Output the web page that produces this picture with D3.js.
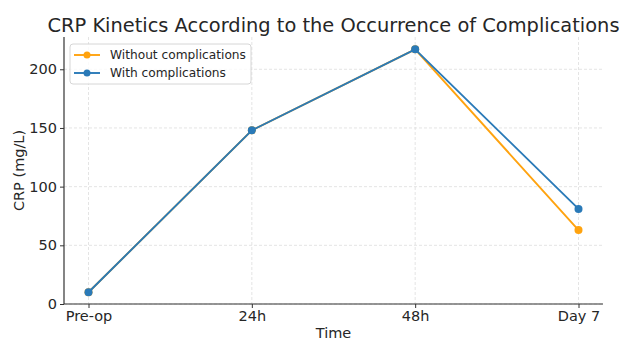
<!DOCTYPE html>
<html>
<head>
<meta charset="utf-8">
<script src="https://cdn.jsdelivr.net/npm/d3@7"></script>
<style>
  html, body { margin: 0; padding: 0; background: #fff; }
  svg { display: block; font-family: "DejaVu Sans", sans-serif; }
</style>
</head>
<body>
<svg id="chart" width="619" height="341"></svg>
<script>
// CRP measurements per time point
const timepoints = ["Pre-op", "24h", "48h", "Day 7"];
const withoutComplications = [10, 148, 217, 63];
const withComplications = [10, 148, 217, 81];
const yTicks = [0, 50, 100, 150, 200];

const series = [
  { name: "Without complications", values: withoutComplications, color: "#ffa30f" },
  { name: "With complications", values: withComplications, color: "#2a7ab8" }
];

const svg = d3.select("#chart");
const margin = { left: 64, right: 16, top: 37, bottom: 37 };
const W = 619, H = 341;
const plotL = margin.left, plotR = W - margin.right;
const plotT = margin.top, plotB = H - margin.bottom;

const idx = d3.range(timepoints.length);
const span = timepoints.length - 1;
const x = d3.scaleLinear()
  .domain([-0.05 * span, span * 1.05])
  .range([plotL, plotR]);
const y = d3.scaleLinear()
  .domain([0, 227.5])
  .range([plotB, plotT]);

// grid
const grid = svg.append("g").attr("stroke", "#dddddd").attr("stroke-width", 0.8)
  .attr("stroke-dasharray", "3,2");
grid.selectAll(".gx").data(idx).join("line")
  .attr("x1", d => x(d)).attr("x2", d => x(d))
  .attr("y1", plotT).attr("y2", plotB);
grid.selectAll(".gy").data(yTicks).join("line")
  .attr("x1", plotL).attr("x2", plotR)
  .attr("y1", d => y(d)).attr("y2", d => y(d));

// axes
const xAxis = d3.axisBottom(x).tickValues(idx).tickFormat(i => timepoints[i])
  .tickSizeOuter(0).tickSize(4).tickPadding(3);
const yAxis = d3.axisLeft(y).tickValues(yTicks).tickSizeOuter(0).tickSize(4).tickPadding(3);

const gx = svg.append("g").attr("transform", `translate(0,${plotB})`).call(xAxis);
const gy = svg.append("g").attr("transform", `translate(${plotL},0)`).call(yAxis);
[gx, gy].forEach(g => {
  g.select(".domain").attr("stroke", "#333").attr("stroke-width", 1.2);
  g.selectAll(".tick line").attr("stroke", "#333").attr("stroke-width", 1);
  g.selectAll(".tick text").attr("fill", "#262626")
    .style("font-family", "DejaVu Sans, sans-serif").style("font-size", "14.5px");
});
gx.select(".domain").attr("d", `M${plotL},0H${plotR}`);
gy.select(".domain").attr("d", `M0,${plotB}V${plotT}`);

// lines and markers
const line = d3.line().x((d, i) => x(i)).y(d => y(d));
series.forEach(s => {
  svg.append("path").datum(s.values)
    .attr("d", line).attr("fill", "none")
    .attr("stroke", s.color).attr("stroke-width", 1.9)
    .attr("stroke-linejoin", "round");
  svg.append("g").selectAll("circle").data(s.values).join("circle")
    .attr("cx", (d, i) => x(i)).attr("cy", d => y(d)).attr("r", 4)
    .attr("fill", s.color);
});

// title (centred over the plot area) and axis labels
svg.append("text").attr("x", (plotL + plotR) / 2).attr("y", 32)
  .attr("text-anchor", "middle").attr("fill", "#262626")
  .style("font-size", "19.4px")
  .text("CRP Kinetics According to the Occurrence of Complications");
svg.append("text").attr("x", (plotL + plotR) / 2).attr("y", 338)
  .attr("text-anchor", "middle").attr("fill", "#262626")
  .style("font-size", "14.5px").text("Time");
svg.append("text")
  .attr("transform", `translate(24,${(plotT + plotB) / 2}) rotate(-90)`)
  .attr("text-anchor", "middle").attr("fill", "#262626")
  .style("font-size", "14.5px").text("CRP (mg/L)");

// legend
const lg = svg.append("g").attr("transform", "translate(70,44)");
lg.append("rect").attr("width", 181).attr("height", 40).attr("rx", 3)
  .attr("fill", "#fff").attr("fill-opacity", 0.8)
  .attr("stroke", "#d6d6d6").attr("stroke-width", 1);
series.forEach((s, i) => {
  const yy = 11 + i * 18;
  lg.append("line").attr("x1", 4).attr("x2", 30).attr("y1", yy).attr("y2", yy)
    .attr("stroke", s.color).attr("stroke-width", 1.9);
  lg.append("circle").attr("cx", 17).attr("cy", yy).attr("r", 3.5).attr("fill", s.color);
  lg.append("text").attr("x", 40).attr("y", yy + 4).attr("fill", "#262626")
    .style("font-size", "12.2px").text(s.name);
});
</script>
</body>
</html>
